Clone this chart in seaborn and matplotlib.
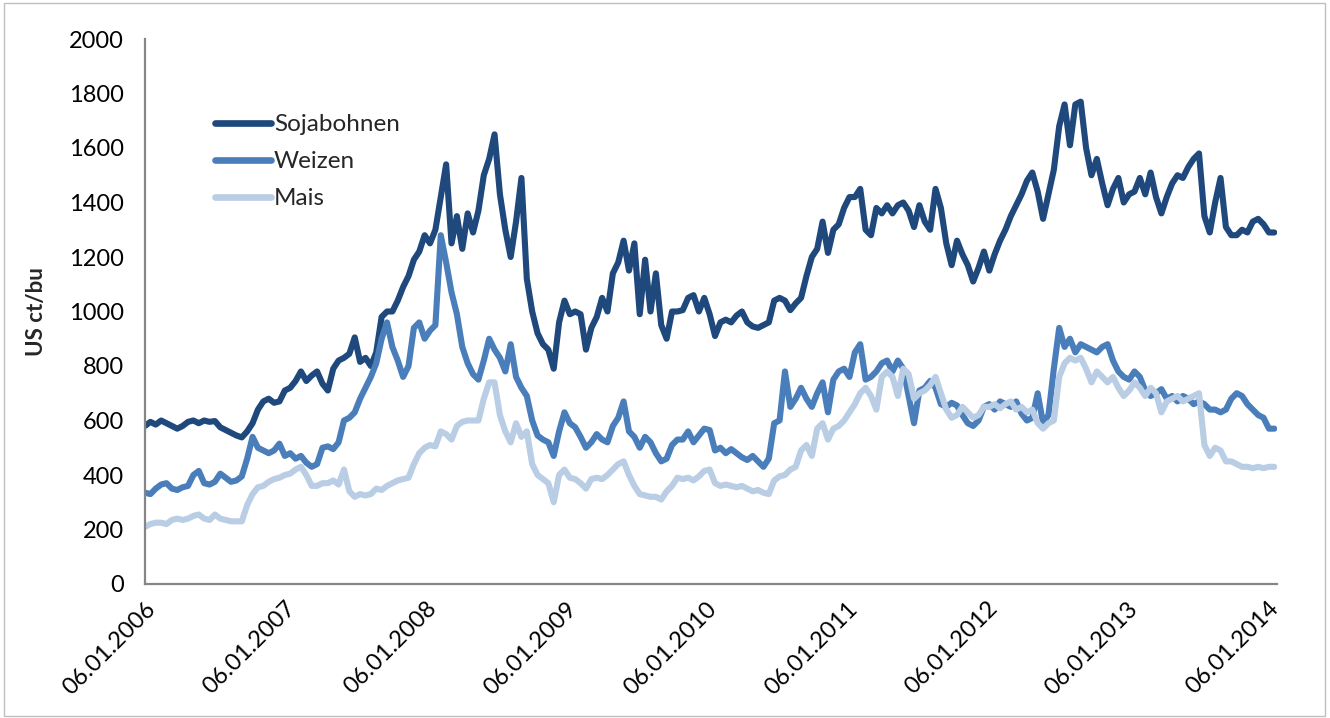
import matplotlib
matplotlib.use("Agg")
import matplotlib.pyplot as plt
import matplotlib.dates as mdates
import pandas as pd
import seaborn as sns

# Weekly futures prices sampled every 14 days from 06.01.2006 (US cents per bushel)
start_date = "2006-01-06"
sample_step = "14D"

soja = [
    580, 595, 585, 600, 590, 580, 570, 580, 595, 600, 590, 600, 595, 598, 575, 565, 555, 545, 538, 560,
    590, 640, 670, 680, 665, 670, 710, 720, 745, 780, 745, 765, 780, 735, 710, 790, 820, 830, 845, 905,
    815, 830, 800, 850, 980, 1000, 1000, 1040, 1090, 1130, 1190, 1220, 1280, 1250, 1300, 1420, 1540, 1250, 1350, 1230,
    1360, 1290, 1370, 1500, 1560, 1650, 1430, 1300, 1200, 1330, 1490, 1120, 1000, 920, 880, 860, 790, 960, 1040, 990,
    1000, 990, 860, 940, 980, 1050, 1000, 1140, 1180, 1260, 1150, 1250, 990, 1190, 1000, 1140, 950, 900, 1000, 1000,
    1005, 1050, 1060, 1000, 1050, 990, 910, 960, 970, 960, 985, 1000, 960, 945, 940, 950, 960, 1040, 1050, 1040,
    1005, 1030, 1050, 1130, 1200, 1230, 1330, 1215, 1300, 1320, 1380, 1420, 1420, 1450, 1300, 1280, 1380, 1360, 1390, 1360,
    1390, 1400, 1370, 1310, 1390, 1330, 1300, 1450, 1380, 1250, 1170, 1260, 1210, 1170, 1110, 1160, 1220, 1150, 1210, 1260,
    1300, 1350, 1390, 1430, 1480, 1510, 1440, 1340, 1430, 1520, 1680, 1760, 1610, 1760, 1770, 1600, 1500, 1560, 1470, 1390,
    1450, 1490, 1400, 1430, 1440, 1490, 1430, 1510, 1420, 1360, 1420, 1470, 1500, 1490, 1530, 1560, 1580, 1350, 1290, 1400,
    1490, 1310, 1280, 1280, 1300, 1290, 1330, 1340, 1320, 1290, 1290,
]

weizen = [
    335, 330, 350, 365, 370, 350, 345, 355, 360, 400, 415, 370, 365, 375, 405, 390, 375, 380, 395, 460,
    540, 500, 490, 480, 490, 515, 470, 480, 460, 470, 445, 430, 440, 500, 505, 495, 520, 600, 610, 630,
    680, 720, 760, 810, 900, 960, 870, 820, 760, 800, 940, 960, 900, 930, 950, 1280, 1180, 1070, 990, 870,
    810, 770, 750, 820, 900, 860, 830, 780, 880, 760, 720, 690, 600, 545, 530, 520, 470, 560, 630, 590,
    575, 540, 500, 520, 550, 530, 520, 580, 610, 670, 560, 540, 500, 540, 520, 480, 450, 460, 510, 530,
    530, 560, 520, 545, 570, 565, 490, 500, 480, 495, 480, 465, 455, 470, 450, 430, 460, 590, 600, 780,
    650, 680, 720, 680, 650, 700, 740, 630, 750, 780, 790, 760, 850, 880, 750, 760, 780, 810, 820, 780,
    820, 790, 690, 590, 710, 720, 745, 720, 660, 650, 665, 655, 620, 590, 580, 600, 650, 660, 640, 670,
    660, 650, 670, 625, 600, 610, 700, 590, 620, 790, 940, 870, 900, 850, 880, 870, 860, 850, 870, 880,
    820, 780, 760, 750, 780, 760, 710, 690, 700, 715, 680, 690, 670, 690, 680, 660, 670, 660, 640, 640,
    630, 640, 680, 700, 690, 660, 640, 620, 610, 570, 570,
]

mais = [
    210, 220, 225, 225, 220, 235, 240, 235, 240, 250, 255, 240, 235, 255, 240, 235, 230, 230, 230, 290,
    330, 355, 360, 375, 385, 390, 400, 405, 420, 430, 400, 360, 360, 370, 370, 380, 365, 420, 340, 320,
    330, 325, 330, 350, 345, 360, 370, 380, 385, 390, 440, 480, 500, 510, 505, 560, 550, 530, 580, 595,
    600, 600, 600, 680, 740, 740, 620, 560, 520, 590, 540, 560, 440, 400, 385, 370, 300, 400, 420, 390,
    385, 370, 350, 385, 390, 385, 400, 420, 440, 450, 400, 360, 330, 325, 320, 320, 310, 340, 360, 390,
    385, 390, 380, 395, 415, 420, 370, 360, 365, 360, 355, 360, 350, 340, 345, 335, 330, 380, 395, 400,
    420, 430, 490, 510, 470, 570, 590, 530, 570, 580, 600, 630, 660, 700, 720, 690, 640, 760, 780, 760,
    690, 790, 770, 680, 700, 710, 730, 760, 700, 640, 610, 620, 650, 630, 610, 620, 650, 650, 660, 645,
    660, 670, 640, 650, 630, 640, 590, 570, 590, 600, 760, 810, 830, 820, 830, 790, 740, 780, 760, 740,
    760, 720, 690, 710, 740, 720, 690, 720, 700, 630, 670, 680, 690, 670, 680, 690, 700, 510, 470, 500,
    490, 450, 450, 440, 430, 430, 425, 430, 425, 430, 430,
]

series_names = ["Sojabohnen", "Weizen", "Mais"]
series_colors = ["#1F497D", "#4A7EBB", "#B9CDE5"]
y_ticks = list(range(0, 2001, 200))
tick_years = list(range(2006, 2015))
y_label = "US ct/bu"

dates = pd.date_range(start_date, periods=len(soja), freq=sample_step)
wide = pd.DataFrame({"Datum": dates, "Sojabohnen": soja, "Weizen": weizen, "Mais": mais})
long = wide.melt(id_vars="Datum", var_name="Rohstoff", value_name="Preis")

sns.set_theme(style="white")
plt.rcParams["font.family"] = ["Lato", "DejaVu Sans"]

W, H = 1330, 718
fig = plt.figure(figsize=(W / 100, H / 100), dpi=100)
ax = fig.add_axes([145 / W, 1 - 584 / H, (1277 - 145) / W, (584 - 39) / H])

sns.lineplot(
    data=long, x="Datum", y="Preis", hue="Rohstoff",
    hue_order=series_names, palette=dict(zip(series_names, series_colors)),
    linewidth=4.4, estimator=None, ax=ax, legend=False,
)
for line in ax.lines:
    line.set_solid_capstyle("round")
    line.set_solid_joinstyle("round")

ax.set_ylim(0, 2000)
ax.set_yticks(y_ticks)
ax.set_xlim(pd.Timestamp("2006-01-06"), pd.Timestamp("2014-01-31"))
ax.set_xticks([pd.Timestamp(f"{y}-01-06") for y in tick_years])
ax.xaxis.set_major_formatter(mdates.DateFormatter("%d.%m.%Y"))

spine_col = "#868686"
for side in ["top", "right"]:
    ax.spines[side].set_visible(False)
for side in ["left", "bottom"]:
    ax.spines[side].set_color(spine_col)
    ax.spines[side].set_linewidth(1.6)

ax.tick_params(axis="both", which="major", direction="out", length=6, width=1.4,
               color=spine_col, labelsize=17, labelcolor="black")
ax.tick_params(axis="y", pad=9)
ax.tick_params(axis="x", pad=4)
for lab in ax.get_xticklabels():
    lab.set_rotation(45)
    lab.set_ha("right")
    lab.set_rotation_mode("anchor")

ax.set_xlabel("")
ax.set_ylabel(y_label, fontsize=16, fontweight="bold", labelpad=16)

handles = [plt.Line2D([], [], color=c, linewidth=4.8, solid_capstyle="round") for c in series_colors]
ax.legend(handles, series_names, loc="upper left", bbox_to_anchor=(0.062, 0.862),
          frameon=False, fontsize=17.5, handlelength=2.3, handletextpad=0.12,
          labelspacing=0.66, borderpad=0, borderaxespad=0)

# light frame around the whole chart
fig.patches.append(plt.Rectangle((4 / W, 2 / H), 1 - 9 / W, 1 - 5 / H, transform=fig.transFigure,
                                 fill=False, edgecolor="#BFBFBF", linewidth=1.0))

fig.savefig("out.png", dpi=100)
